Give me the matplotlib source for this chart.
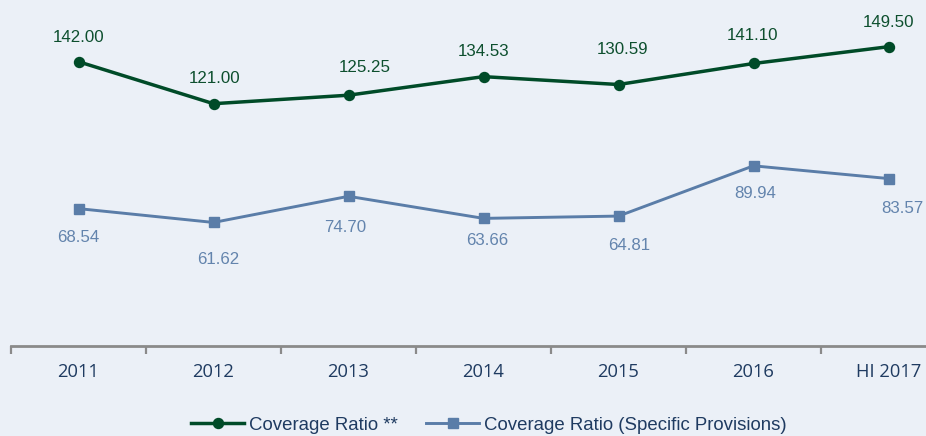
import matplotlib
matplotlib.use("Agg")
import matplotlib.pyplot as plt

categories = ["2011", "2012", "2013", "2014", "2015", "2016", "HI 2017"]
coverage_ratio = [142.00, 121.00, 125.25, 134.53, 130.59, 141.10, 149.50]
coverage_specific = [68.54, 61.62, 74.70, 63.66, 64.81, 89.94, 83.57]
series_names = ["Coverage Ratio **", "Coverage Ratio (Specific Provisions)"]

# label offsets (pixels, dx, dy of label centre relative to point; +dy = up)
green_off = [(0, 26), (1, 27), (16, 29.5), (0, 27), (4, 37), (-1, 30), (0, 26)]
blue_off = [(0, -27.7), (5, -35), (-3.6, -30), (3.5, -21), (10.7, -28.3), (1.6, -26), (14, -28.3)]

BG = "#EBF0F7"
GREEN = "#004B28"
GREEN_TXT = "#0D4F2E"
BLUE = "#5A7DA8"
BLUE_TXT = "#6384AD"
NAVY = "#1F3B61"

W, H = 926, 436
fig = plt.figure(figsize=(W / 100, H / 100), dpi=100, facecolor=BG)
ax_bottom_px = 345.7
ax = fig.add_axes([11 / W, (H - ax_bottom_px) / H, 945 / W, ax_bottom_px / H])
ax.set_facecolor(BG)

x = list(range(len(categories)))
l1, = ax.plot(x, coverage_ratio, color=GREEN, lw=2.5, marker="o", ms=7.2,
              markerfacecolor=GREEN, markeredgecolor=GREEN, label=series_names[0], clip_on=False)
l2, = ax.plot(x, coverage_specific, color=BLUE, lw=2.1, marker="s", ms=7.6,
              markerfacecolor=BLUE, markeredgecolor=BLUE, label=series_names[1], clip_on=False)

ax.set_xlim(-0.5, len(categories) - 0.5)
ax.set_ylim(0, ax_bottom_px / 2.0)

lab_font = dict(family=["Liberation Sans", "DejaVu Sans"], size=12.2)
cap_half = 6.1
for i, v in enumerate(coverage_ratio):
    dx, dy = green_off[i]
    ax.annotate(f"{v:.2f}", (i, v), xytext=(dx, dy - cap_half), textcoords="offset pixels",
                ha="center", va="baseline", color=GREEN_TXT, annotation_clip=False, **lab_font)
for i, v in enumerate(coverage_specific):
    dx, dy = blue_off[i]
    ax.annotate(f"{v:.2f}", (i, v), xytext=(dx, dy - cap_half), textcoords="offset pixels",
                ha="center", va="baseline", color=BLUE_TXT, annotation_clip=False, **lab_font)

for s in ["top", "right", "left"]:
    ax.spines[s].set_visible(False)
ax.spines["bottom"].set_color("#8A8A8A")
ax.spines["bottom"].set_linewidth(2.0)
ax.set_yticks([])

ax.set_xticks(x)
ax.set_xticklabels(categories, fontfamily="Open Sans", fontsize=13.2, color=NAVY)
ax.tick_params(axis="x", which="major", length=0, pad=12.5)
ax.set_xticks([i - 0.5 for i in range(len(categories) + 1)], minor=True)
ax.tick_params(axis="x", which="minor", length=6, width=1.6, color="#8A8A8A", direction="out")

leg = fig.legend(handles=[l1, l2], loc="center", bbox_to_anchor=(489 / W, (H - 425) / H),
                 ncol=2, frameon=False, handlelength=2.85, handletextpad=0.28,
                 columnspacing=1.5, prop=dict(family="Liberation Sans", size=13.4))
for t in leg.get_texts():
    t.set_color(NAVY)

fig.savefig("out.png", dpi=100, facecolor=BG)
